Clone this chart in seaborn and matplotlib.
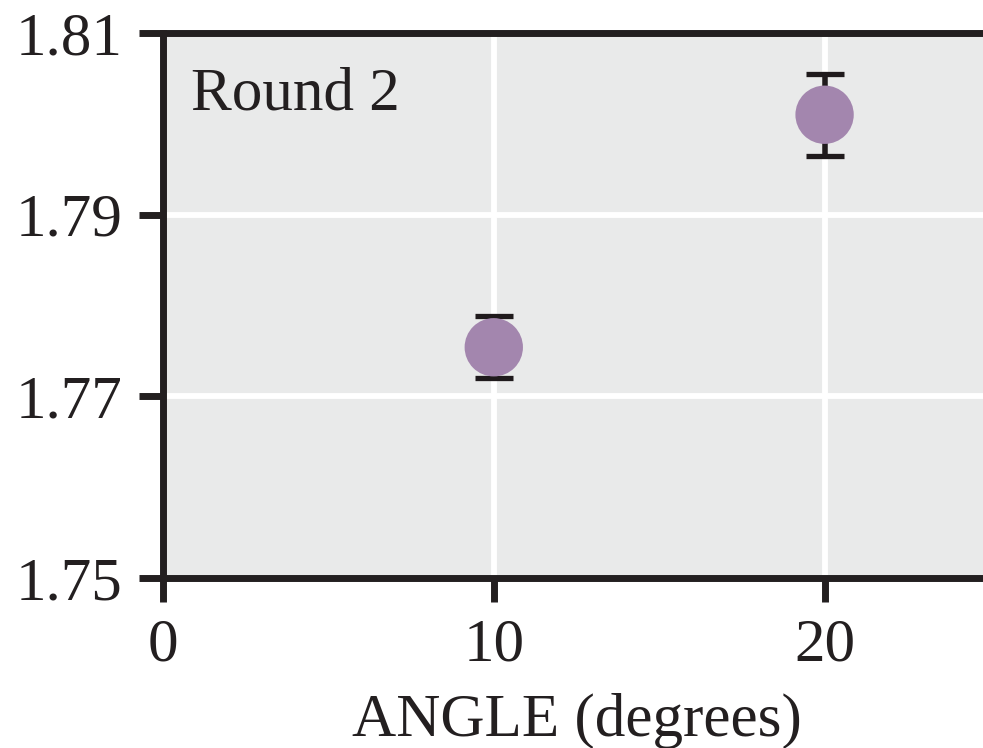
import matplotlib
matplotlib.use("Agg")
import matplotlib.pyplot as plt
import seaborn as sns
import pandas as pd

# Measured values for round 2
angle = [10, 20]
value = [1.7754, 1.8010]
err = [0.0034, 0.0045]

x_ticks = [0, 10, 20]
y_ticks = [1.75, 1.77, 1.79, 1.81]
y_tick_labels = ["1.75", "1.77", "1.79", "1.81"]

df = pd.DataFrame({"angle": angle, "value": value, "err": err})

sns.set_theme(style="darkgrid")
plt.rcParams["font.family"] = ["Liberation Serif", "DejaVu Serif"]

fig = plt.figure(figsize=(9.83, 7.48), dpi=100)
ax = fig.add_axes([0.1658, 0.2273, 1.0071 - 0.1658, 0.9559 - 0.2273])
ax.set_facecolor("#e9eaea")

ax.errorbar(df["angle"], df["value"], yerr=df["err"], fmt="none",
            ecolor="#1f1a1c", elinewidth=4.0, capsize=13.5, capthick=3.8, zorder=2)
sns.scatterplot(data=df, x="angle", y="value", ax=ax, s=42 ** 2,
                color="#a386ae", edgecolor="none", linewidth=0, zorder=3, legend=False)

ax.set_xlim(0, 25)
ax.set_ylim(1.75, 1.81)
ax.set_xticks(x_ticks)
ax.set_xticklabels([str(t) for t in x_ticks])
ax.set_yticks(y_ticks)
ax.set_yticklabels(y_tick_labels)

ax.grid(True, color="white", linewidth=4.2)
ax.set_axisbelow(True)

for side in ["left", "bottom", "top", "right"]:
    ax.spines[side].set_visible(True)
    ax.spines[side].set_color("#231f20")
    ax.spines[side].set_linewidth(5)

ax.tick_params(axis="both", which="major", direction="out", length=17,
               width=5, color="#231f20", labelsize=44, labelcolor="#231f20",
               left=True, bottom=True, pad=12)

ax.set_xlabel("ANGLE (degrees)", fontsize=44, color="#231f20", labelpad=14)
ax.set_ylabel("")

ax.text(0.034, 0.859, "Round 2", transform=ax.transAxes, fontsize=44,
        color="#231f20", ha="left", va="baseline")

fig.savefig("out.png", dpi=100)
